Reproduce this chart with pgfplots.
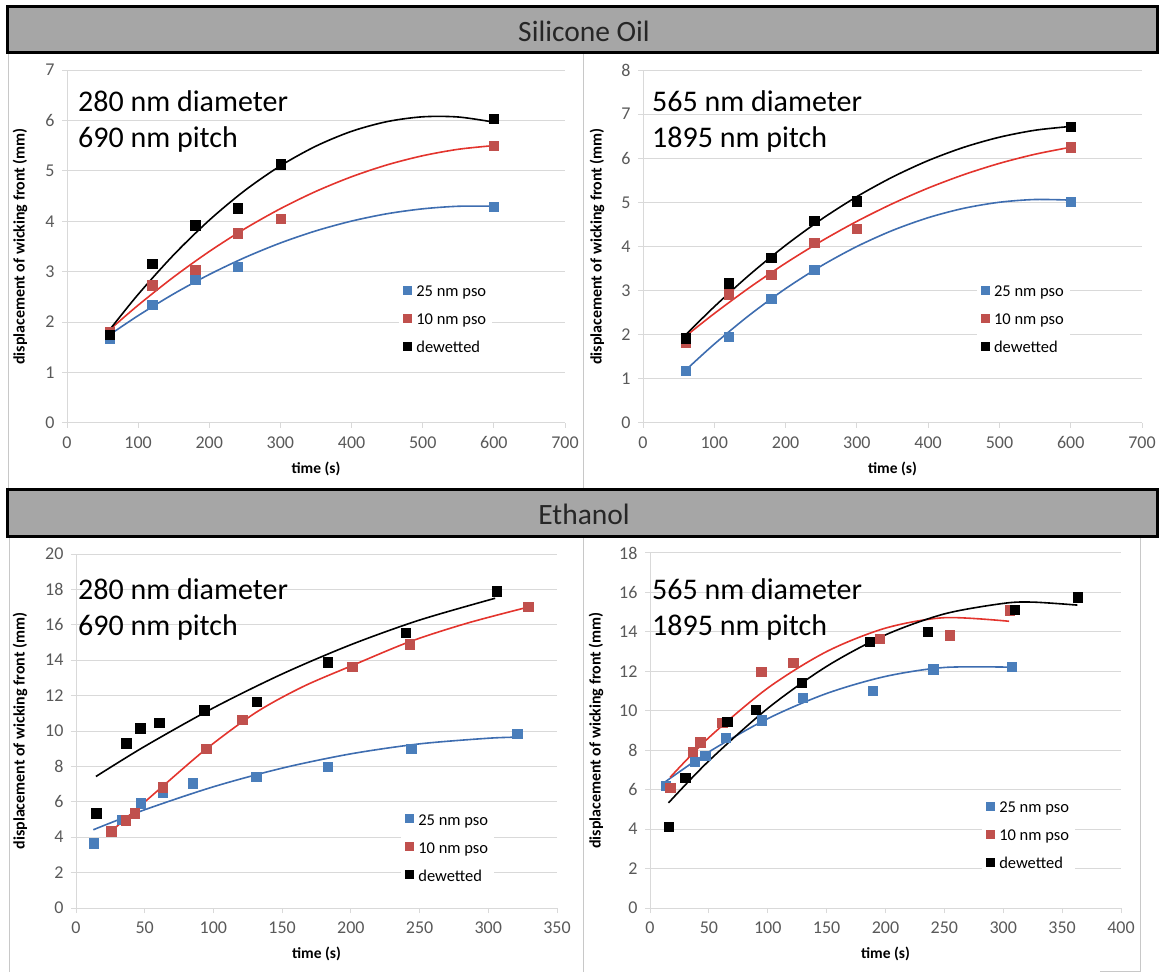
\documentclass[border=0pt]{standalone}
\usepackage{fontspec}
\setmainfont{Carlito}
\usepackage{pgfplots}
\pgfplotsset{compat=1.18}
\definecolor{mblue}{HTML}{4A7EBB}
\definecolor{mred}{HTML}{C0504D}
\definecolor{lblue}{HTML}{3E6DB0}
\definecolor{lred}{HTML}{E3342D}
\definecolor{gridc}{HTML}{D9D9D9}
\definecolor{tickc}{HTML}{595959}
\definecolor{bannerc}{HTML}{A6A6A6}
\definecolor{framec}{HTML}{C8C8C8}
\pgfplotsset{
  panel/.style={
    scale only axis, anchor=south west,
    axis lines*=left,
    axis line style={gridc, line width=1pt},
    ymajorgrids, grid style={gridc, line width=1pt},
    xmin=0, ymin=0,
    tick align=outside, major tick length=5pt,
    tick style={gridc, line width=1pt},
    tick label style={font=\fontsize{18}{20}\selectfont, text=tickc},
    xticklabel style={yshift=-5pt},
    yticklabel style={xshift=-4pt},
    /pgf/number format/assume math mode=true,
    xlabel={time (s)},
    every axis x label/.style={at={([yshift=-46pt]axis description cs:0.5,0)}, anchor=center, font=\bfseries\fontsize{15.5}{17}\selectfont},
    ylabel={displacement of wicking front (mm)},
    clip=false,
    legend cell align=left,
    legend style={draw=none, fill=white, font=\fontsize{16.5}{18}\selectfont, anchor=north west,
      row sep=9pt, column sep=3pt, inner xsep=4pt, inner ysep=3pt,
      nodes={text height=11pt, text depth=4pt, inner sep=2pt}},
    legend image code/.code={\draw[#1, mark size=4pt] plot coordinates {(4pt,3pt)};},
  },
  ylab/.style={every axis y label/.style={at={([xshift=#1]axis description cs:0,0.5)}, rotate=90, anchor=center, font=\bfseries\fontsize{16}{18}\selectfont}},
  pts/.style={only marks, mark=square*, mark size=4.7pt, mark options={draw=#1, fill=#1}},
  fit/.style={no marks, smooth, line width=1.6pt, color=#1, forget plot},
}
\begin{document}
\begin{tikzpicture}
\path[use as bounding box] (0pt,0pt) rectangle (1161pt,972pt);
% panel frames
\draw[framec, line width=1pt] (8pt,919pt) -- (8pt,482pt);
\draw[framec, line width=1pt] (583pt,919pt) -- (583pt,482pt);
\draw[framec, line width=1pt] (9pt,435pt) -- (9pt,0pt);
\draw[framec, line width=1pt] (583pt,435pt) -- (583pt,0pt);
\draw[framec, line width=1pt] (1140pt,435pt) -- (1140pt,1pt) -- (1100pt,1pt);
% banners
\filldraw[fill=bannerc, draw=black, line width=3pt] (7pt,919pt) rectangle (1157pt,965pt);
\node[font=\fontsize{29.5}{32}\selectfont, text=black!85] at (584pt,941pt) {Silicone Oil};
\filldraw[fill=bannerc, draw=black, line width=3pt] (7pt,435pt) rectangle (1157pt,482pt);
\node[font=\fontsize{29.5}{32}\selectfont, text=black!85] at (584pt,458pt) {Ethanol};

% ---------- Top left ----------
\begin{axis}[panel, ylab=-47pt, at={(67pt,549pt)}, width=498pt, height=353pt,
  xmax=700, ymax=7, xtick distance=100, ytick distance=1,
  legend style={at={(0.667,0.405)}}]
\addplot[pts=mblue] coordinates {(60,1.67)(120,2.34)(180,2.84)(240,3.10)(600,4.29)};
\addlegendentry{25 nm pso}
\addplot[pts=mred] coordinates {(60,1.80)(120,2.73)(180,3.04)(240,3.76)(300,4.05)(600,5.50)};
\addlegendentry{10 nm pso}
\addplot[pts=black] coordinates {(60,1.75)(120,3.16)(180,3.92)(240,4.26)(300,5.13)(600,6.03)};
\addlegendentry{dewetted}
\addplot[fit=lblue] coordinates {(60,1.750)(100,2.129)(150,2.561)(200,2.945)(250,3.281)(300,3.570)(350,3.811)(400,4.004)(450,4.150)(500,4.247)(550,4.298)(600,4.300)};
\addplot[fit=lred] coordinates {(60,1.850)(100,2.336)(150,2.896)(200,3.401)(250,3.853)(300,4.250)(350,4.594)(400,4.883)(450,5.119)(500,5.300)(550,5.428)(600,5.501)};
\addplot[fit=black] coordinates {(60,1.850)(100,2.550)(150,3.335)(200,4.022)(250,4.611)(300,5.100)(350,5.491)(400,5.784)(450,5.977)(500,6.072)(550,6.068)(600,5.966)};
\end{axis}
\node[anchor=base west, inner sep=0pt, font=\fontsize{30}{34}\selectfont] at (78pt,860pt) {280 nm diameter};
\node[anchor=base west, inner sep=0pt, font=\fontsize{30}{34}\selectfont] at (78pt,824pt) {690 nm pitch};

% ---------- Top right ----------
\begin{axis}[panel, ylab=-46pt, at={(643pt,549pt)}, width=499pt, height=353pt,
  xmax=700, ymax=8, xtick distance=100, ytick distance=1,
  legend style={at={(0.669,0.405)}}]
\addplot[pts=mblue] coordinates {(60,1.18)(120,1.96)(180,2.82)(240,3.47)(600,5.02)};
\addlegendentry{25 nm pso}
\addplot[pts=mred] coordinates {(60,1.83)(120,2.92)(180,3.36)(240,4.09)(300,4.40)(600,6.25)};
\addlegendentry{10 nm pso}
\addplot[pts=black] coordinates {(60,1.92)(120,3.17)(180,3.75)(240,4.58)(300,5.03)(600,6.72)};
\addlegendentry{dewetted}
\addplot[fit=lblue] coordinates {(60,1.200)(100,1.788)(150,2.454)(200,3.045)(250,3.560)(300,4.000)(350,4.364)(400,4.653)(450,4.866)(500,5.003)(550,5.065)(600,5.051)};
\addplot[fit=lred] coordinates {(60,1.970)(100,2.481)(150,3.076)(200,3.622)(250,4.120)(300,4.570)(350,4.971)(400,5.324)(450,5.628)(500,5.884)(550,6.091)(600,6.250)};
\addplot[fit=black] coordinates {(60,2.000)(100,2.636)(150,3.367)(200,4.026)(250,4.614)(300,5.130)(350,5.574)(400,5.947)(450,6.248)(500,6.477)(550,6.635)(600,6.721)};
\end{axis}
\node[anchor=base west, inner sep=0pt, font=\fontsize{30}{34}\selectfont] at (652pt,860pt) {565 nm diameter};
\node[anchor=base west, inner sep=0pt, font=\fontsize{30}{34}\selectfont] at (652pt,824pt) {1895 nm pitch};

% ---------- Bottom left ----------
\begin{axis}[panel, ylab=-56pt, at={(76pt,64pt)}, width=481pt, height=354pt,
  xmax=350, ymax=20, xtick distance=50, ytick distance=2,
  legend style={at={(0.676,0.280)}}]
\addplot[pts=mblue] coordinates {(12.9,3.67)(33.5,5.0)(47,5.93)(63,6.55)(85,7.06)(131,7.43)(183,8.0)(244,9.01)(321,9.84)};
\addlegendentry{25 nm pso}
\addplot[pts=mred] coordinates {(25.6,4.33)(36.3,4.95)(42.5,5.36)(63.3,6.83)(94.8,8.99)(121,10.63)(201,13.64)(243,14.9)(329,17.03)};
\addlegendentry{10 nm pso}
\addplot[pts=black] coordinates {(14.8,5.36)(36.6,9.31)(46.8,10.16)(60.6,10.48)(93.4,11.18)(131.7,11.65)(183,13.89)(240,15.56)(306,17.89)};
\addlegendentry{dewetted}
\addplot[fit=lblue] coordinates {(12.6,4.420)(50,5.551)(100,6.849)(150,7.902)(200,8.710)(250,9.273)(300,9.591)(321,9.651)};
\addplot[fit=lred] coordinates {(25.6,4.33)(45,5.65)(63,6.87)(95,9.0)(131,11.05)(165,12.5)(201,13.7)(243,15.05)(285,16.1)(329,17.0)};
\addplot[fit=black] coordinates {(14.5,7.430)(50,9.132)(100,11.307)(150,13.221)(200,14.875)(250,16.268)(305,17.500)};
\end{axis}
\node[anchor=base west, inner sep=0pt, font=\fontsize{30}{34}\selectfont] at (78pt,372pt) {280 nm diameter};
\node[anchor=base west, inner sep=0pt, font=\fontsize{30}{34}\selectfont] at (78pt,336pt) {690 nm pitch};

% ---------- Bottom right ----------
\begin{axis}[panel, ylab=-54pt, at={(650pt,64pt)}, width=471pt, height=355pt,
  xmax=400, ymax=18, xtick distance=50, ytick distance=2,
  legend style={at={(0.705,0.315)}}]
\addplot[pts=mblue] coordinates {(13.2,6.2)(37.7,7.42)(46.9,7.72)(64.2,8.65)(95,9.53)(129.6,10.67)(189.3,11.02)(240.6,12.11)(307,12.24)};
\addlegendentry{25 nm pso}
\addplot[pts=mred] coordinates {(17.3,6.11)(36.2,7.92)(42.5,8.40)(61.3,9.41)(94.3,11.99)(121.7,12.44)(195,13.65)(254.4,13.83)(305.7,15.09)};
\addlegendentry{10 nm pso}
\addplot[pts=black] coordinates {(15.7,4.11)(29.9,6.60)(65.7,9.45)(89.6,10.04)(128.6,11.43)(186.8,13.51)(235.8,14.02)(309.7,15.12)(363.2,15.76)};
\addlegendentry{dewetted}
\addplot[fit=lblue] coordinates {(13,6.400)(50,7.914)(100,9.602)(150,10.878)(200,11.743)(250,12.196)(307,12.210)};
\addplot[fit=lred] coordinates {(17,6.620)(50,8.640)(100,11.151)(150,13.002)(200,14.191)(250,14.720)(305,14.538)};
\addplot[fit=black] coordinates {(15.7,5.330)(50,7.462)(100,10.123)(150,12.251)(200,13.848)(250,14.912)(300,15.444)(325,15.510)(363,15.358)};
\end{axis}
\node[anchor=base west, inner sep=0pt, font=\fontsize{30}{34}\selectfont] at (652pt,372pt) {565 nm diameter};
\node[anchor=base west, inner sep=0pt, font=\fontsize{30}{34}\selectfont] at (652pt,336pt) {1895 nm pitch};
\end{tikzpicture}
\end{document}
